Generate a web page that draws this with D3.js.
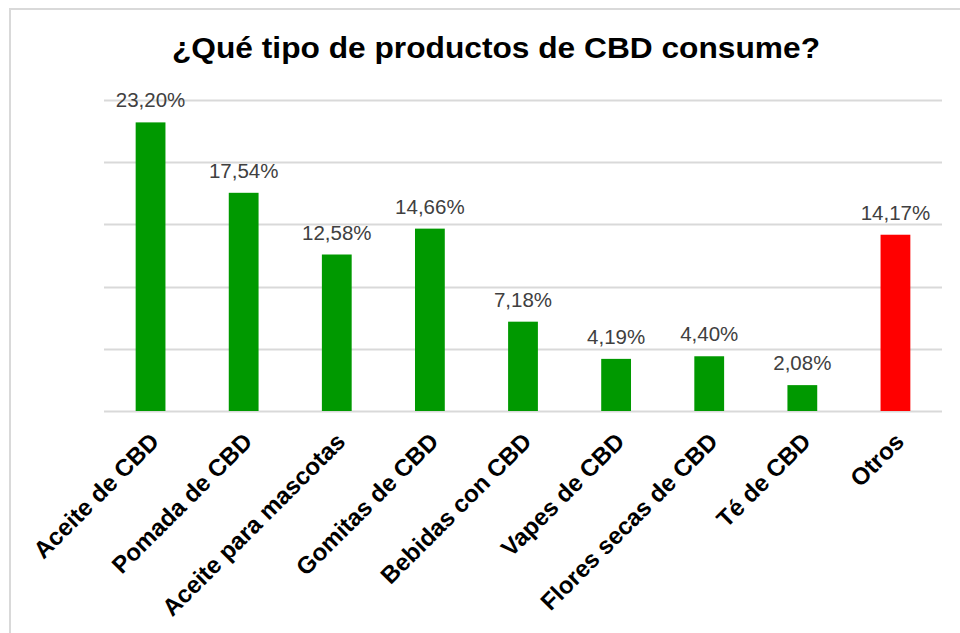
<!DOCTYPE html>
<html>
<head>
<meta charset="utf-8">
<script src="https://cdn.jsdelivr.net/npm/d3@7"></script>
<style>
  html, body { margin: 0; padding: 0; background: #fff; }
  svg { display: block; }
</style>
</head>
<body>
<svg id="chart" width="960" height="633"></svg>
<script>
// Survey answers: share of respondents per CBD product type
const categories = [
  "Aceite de CBD", "Pomada de CBD", "Aceite para mascotas", "Gomitas de CBD",
  "Bebidas con CBD", "Vapes de CBD", "Flores secas de CBD", "Té de CBD", "Otros"
];
const shares = [23.20, 17.54, 12.58, 14.66, 7.18, 4.19, 4.40, 2.08, 14.17];
const gridTicks = [0, 5, 10, 15, 20, 25];
const titleText = "¿Qué tipo de productos de CBD consume?";

const svg = d3.select("#chart");
const W = 960, H = 633;
const plot = { left: 104, right: 942, top: 100, bottom: 411 };
const FONT = "Liberation Sans, Arial, sans-serif";

// outer chart frame
svg.append("rect")
  .attr("x", 10).attr("y", 9)
  .attr("width", W).attr("height", H)
  .attr("fill", "#fff")
  .attr("stroke", "#d9d9d9").attr("stroke-width", 2);

const x = d3.scaleBand()
  .domain(categories)
  .range([plot.left, plot.right])
  .paddingInner(0.68).paddingOuter(0.34);

const y = d3.scaleLinear()
  .domain([0, 25])
  .range([plot.bottom, plot.top]);

// horizontal gridlines
svg.append("g")
  .selectAll("line")
  .data(gridTicks)
  .join("line")
  .attr("x1", plot.left).attr("x2", plot.right)
  .attr("y1", d => Math.round(y(d)) + 0.5).attr("y2", d => Math.round(y(d)) + 0.5)
  .attr("stroke", "#d9d9d9").attr("stroke-width", 2);

// bars
svg.append("g")
  .selectAll("rect")
  .data(shares)
  .join("rect")
  .attr("x", (d, i) => x(categories[i]))
  .attr("width", x.bandwidth())
  .attr("y", d => y(d))
  .attr("height", d => y(0) - y(d))
  .attr("fill", (d, i) => categories[i] === "Otros" ? "#ff0000" : "#009900");

// value labels
const fmt = v => v.toFixed(2).replace(".", ",") + "%";
svg.append("g")
  .selectAll("text")
  .data(shares)
  .join("text")
  .attr("x", (d, i) => x(categories[i]) + x.bandwidth() / 2)
  .attr("y", d => y(d) - 15)
  .attr("text-anchor", "middle")
  .attr("font-family", FONT)
  .attr("font-size", 20.5)
  .attr("fill", "#404040")
  .text(fmt);

// category axis labels, rotated
const xAxis = d3.axisBottom(x).tickSize(0).tickPadding(0);
const gx = svg.append("g")
  .attr("transform", `translate(0,${plot.bottom})`)
  .call(xAxis);
gx.select(".domain").remove();
gx.selectAll(".tick text")
  .attr("font-family", FONT)
  .attr("font-size", 24)
  .attr("font-weight", "bold")
  .attr("fill", "#000")
  .attr("text-anchor", "end")
  .attr("dy", null)
  .attr("transform", "translate(10,32) rotate(-45)");

// title
svg.append("text")
  .attr("x", 496)
  .attr("y", 58)
  .attr("text-anchor", "middle")
  .attr("font-family", FONT)
  .attr("font-size", 29)
  .attr("font-weight", "bold")
  .attr("fill", "#000")
  .attr("textLength", 648)
  .attr("lengthAdjust", "spacingAndGlyphs")
  .text(titleText);
</script>
</body>
</html>
